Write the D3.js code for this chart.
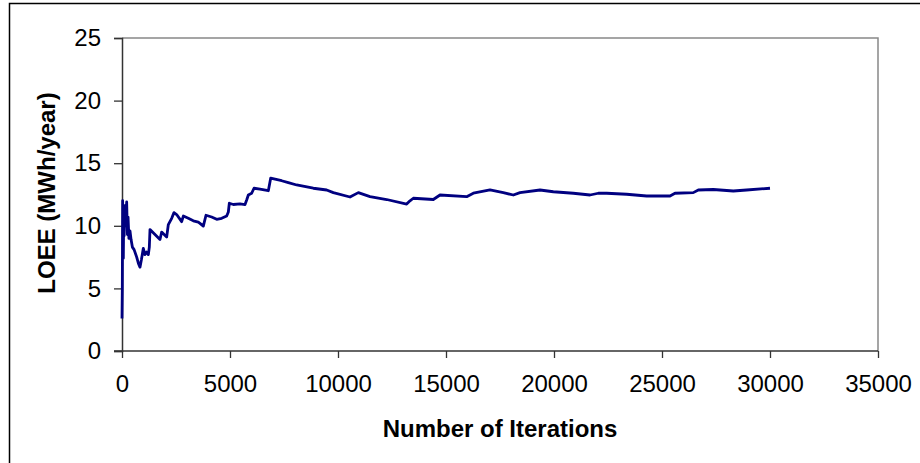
<html>
  <head>
    <script src="https://d3js.org/d3.v7.min.js"></script>
    <style>
      body { margin: 0; background: #fff; }
      svg { font-family: "Liberation Sans", Arial, sans-serif; }
      .tick text { font-size: 24px; fill: #000; }
      .title-text { font-size: 24px; font-weight: bold; }
    </style>
  </head>
  <body>
    <div id="root"></div>
  </body>
  <script>
// iterations and running LOEE estimate
var iterations = [0, 15, 30, 45, 62, 80, 100, 130, 160, 216, 250, 280, 320, 370, 420, 480, 560, 680, 760, 833,
  900, 987, 1060, 1140, 1220, 1265, 1296, 1759, 1836, 2068, 2145, 2300, 2407, 2530, 2762, 2840, 3070, 3302,
  3533, 3610, 3765, 3889, 4150, 4383, 4615, 4846, 4923, 4969, 5154, 5463, 5695, 5772, 5849, 6003, 6111, 6388,
  6775, 6883, 7392, 7700, 8086, 8858, 9475, 9784, 10556, 10941, 11481, 12253, 13179, 13333, 13487, 14413,
  14722, 15957, 16265, 17037, 17654, 18117, 18426, 19352, 19969, 20895, 21667, 22052, 22438, 23364, 24290,
  25370, 25602, 26450, 26682, 27376, 28302, 28920, 30000];
var loee = [2.6, 5.0, 12.0, 9.5, 7.4, 11.0, 9.2, 11.6, 10.0, 11.9, 9.3, 10.7, 9.0, 9.6, 8.9, 8.3, 8.1, 7.5, 7.0, 6.7,
  7.3, 8.2, 7.7, 7.9, 7.7, 8.3, 9.7, 8.9, 9.5, 9.1, 10.1, 10.6, 11.05, 10.9, 10.33, 10.78, 10.6, 10.4,
  10.3, 10.2, 9.98, 10.84, 10.7, 10.52, 10.6, 10.78, 11.1, 11.8, 11.7, 11.75, 11.7, 12.06, 12.46, 12.6, 13.0, 12.93,
  12.8, 13.8, 13.6, 13.45, 13.26, 13.0, 12.86, 12.65, 12.3, 12.65, 12.33, 12.1, 11.74, 12.0,
  12.2, 12.1, 12.46, 12.33, 12.6, 12.86, 12.65, 12.46, 12.65, 12.86, 12.72, 12.6, 12.46, 12.6, 12.6, 12.52, 12.38,
  12.38, 12.6, 12.65, 12.86, 12.9, 12.78, 12.86, 13.0];
var xTicks = [0, 5000, 10000, 15000, 20000, 25000, 30000, 35000];
var yTicks = [0, 5, 10, 15, 20, 25];

var data = iterations.map((d, i) => ({it: d, v: loee[i]}));

var width = 920;
var height = 463;
var plot = {left: 122, top: 38, right: 878, bottom: 351};

var svg = d3.select("#root").append("svg")
  .attr("width", width)
  .attr("height", height);

/* outer frame */
svg.append("rect")
  .attr("x", 9.5).attr("y", 3.5)
  .attr("width", 1000).attr("height", 1000)
  .attr("fill", "none")
  .attr("stroke", "#000")
  .attr("stroke-width", 1.5);

var x = d3.scaleLinear().domain([0, 35000]).range([plot.left, plot.right]);
var y = d3.scaleLinear().domain([0, 25]).range([plot.bottom, plot.top]);

/* plot area top / right edges */
svg.append("path")
  .attr("d", `M${plot.left},${plot.top}H${plot.right}V${plot.bottom}`)
  .attr("fill", "none")
  .attr("stroke", "#888")
  .attr("stroke-width", 1.5);

var xAxis = d3.axisBottom(x).tickValues(xTicks).tickSize(7).tickPadding(17).tickFormat(d3.format("d"));
var yAxis = d3.axisLeft(y).tickValues(yTicks).tickSize(8).tickPadding(13);

var gx = svg.append("g")
  .attr("transform", `translate(0, ${plot.bottom})`)
  .call(xAxis);
var gy = svg.append("g")
  .attr("transform", `translate(${plot.left}, 0)`)
  .call(yAxis);

[gx, gy].forEach(g => {
  g.select(".domain").attr("stroke", "#333").attr("stroke-width", 1.5);
  g.selectAll(".tick line").attr("stroke", "#333").attr("stroke-width", 1.3);
  g.selectAll("text").attr("font-family", null).attr("font-size", null);
});
gx.select(".domain").attr("d", `M${plot.left - 8},0H${plot.right}`);

/* line */
var line = d3.line()
  .x(d => x(d.it))
  .y(d => y(d.v));

svg.append("path")
  .datum(data)
  .attr("d", line)
  .attr("fill", "none")
  .attr("stroke", "#000080")
  .attr("stroke-width", 2.8)
  .attr("stroke-linejoin", "round");

/* titles */
svg.append("text")
  .attr("class", "title-text")
  .attr("x", 500)
  .attr("y", 437)
  .attr("text-anchor", "middle")
  .text("Number of Iterations");

svg.append("text")
  .attr("class", "title-text")
  .attr("transform", "translate(55, 193) rotate(-90)")
  .attr("text-anchor", "middle")
  .text("LOEE (MWh/year)");
  </script>
</html>
